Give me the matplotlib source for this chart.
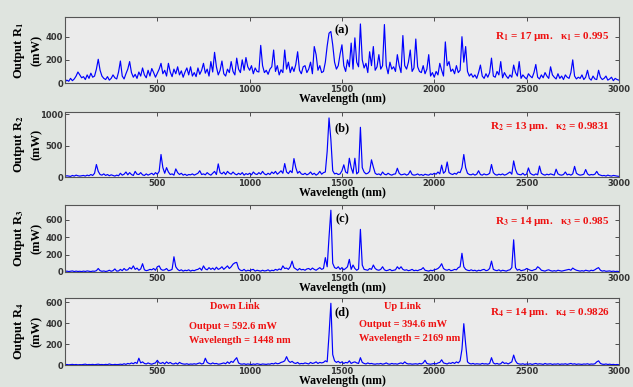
import numpy as np
import matplotlib
matplotlib.use('Agg')
import matplotlib.pyplot as plt

plt.rcParams['mathtext.fontset'] = 'stix'

# wavelength grid (nm), one sample every 10 nm
wavelength = np.arange(0, 3001, 10)

# output power (mW)
output_r1 = [
    10, 25, 15, 40, 20, 35, 60, 95, 70, 45,
    55, 30, 70, 40, 85, 50, 60, 120, 205, 110,
    60, 40, 30, 55, 25, 40, 70, 45, 35, 95,
    190, 60, 35, 80, 120, 185, 90, 50, 75, 40,
    95, 60, 130, 70, 45, 110, 60, 125, 90, 50,
    85, 120, 170, 80, 110, 60, 170, 95, 55, 120,
    80, 140, 70, 105, 50, 95, 130, 70, 140, 60,
    90, 55, 130, 75, 110, 170, 85, 120, 60, 185,
    95, 265, 140, 70, 110, 190, 80, 60, 120, 90,
    185, 100, 70, 215, 120, 90, 200, 110, 220, 140,
    110, 150, 80, 130, 100, 95, 325, 150, 90, 110,
    75, 120, 140, 285, 100, 150, 70, 115, 90, 285,
    120, 180, 90, 140, 100, 160, 270, 110, 80, 140,
    150, 90, 120, 180, 80, 315, 245, 110, 150, 90,
    100, 180, 320, 430, 445, 330, 180, 120, 150, 250,
    330, 150, 100, 200, 140, 345, 120, 390, 180, 140,
    510, 200, 130, 170, 90, 270, 150, 315, 110, 140,
    245, 120, 150, 505, 150, 80, 180, 120, 140, 100,
    245, 150, 90, 410, 150, 120, 180, 285, 100, 130,
    380, 140, 100, 90, 150, 80, 120, 245, 60, 90,
    50, 100, 70, 170, 110, 60, 355, 150, 185, 100,
    120, 80, 150, 90, 110, 400, 180, 315, 100, 60,
    80, 50, 70, 40, 90, 155, 60, 40, 80, 50,
    90, 215, 60, 50, 100, 70, 185, 45, 90, 60,
    40, 70, 50, 155, 90, 60, 185, 40, 70, 50,
    35, 80, 60, 45, 90, 160, 50, 35, 70, 45,
    90, 60, 40, 140, 70, 50, 35, 80, 40, 60,
    30, 70, 50, 40, 90, 200, 60, 35, 50, 40,
    70, 30, 50, 110, 40, 25, 60, 35, 30, 110,
    50, 30, 40, 60, 25, 35, 50, 20, 40, 30,
    25]

output_r2 = [
    10, 20, 15, 10, 25, 15, 30, 20, 15, 20,
    25, 15, 30, 20, 40, 25, 60, 200, 90, 40,
    30, 50, 25, 40, 20, 35, 25, 15, 30, 20,
    60, 30, 45, 80, 35, 70, 40, 25, 90, 45,
    40, 70, 35, 25, 50, 30, 45, 60, 35, 70,
    45, 90, 360, 150, 60, 150, 80, 40, 50, 30,
    130, 70, 40, 60, 30, 45, 25, 40, 35, 50,
    30, 45, 60, 100, 40, 50, 35, 70, 45, 30,
    60, 90, 40, 210, 70, 50, 80, 40, 90, 60,
    45, 80, 50, 35, 60, 40, 70, 30, 55, 40,
    60, 35, 80, 50, 40, 70, 45, 90, 50, 35,
    60, 40, 80, 55, 90, 45, 70, 100, 60, 215,
    80, 55, 100, 70, 295, 150, 60, 90, 50, 40,
    60, 35, 50, 80, 40, 60, 30, 50, 90, 45,
    70, 80, 410, 945, 600, 100, 50, 60, 40, 50,
    100, 195, 80, 60, 300, 150, 60, 300, 50, 80,
    795, 150, 80, 50, 60, 90, 275, 160, 60, 40,
    50, 30, 80, 45, 35, 60, 40, 30, 45, 50,
    140, 60, 35, 40, 50, 30, 45, 100, 40, 30,
    35, 50, 30, 40, 25, 45, 35, 30, 50, 40,
    60, 45, 80, 50, 190, 60, 90, 240, 70, 50,
    40, 60, 45, 80, 70, 150, 360, 150, 60, 40,
    35, 50, 30, 45, 100, 40, 30, 50, 35, 40,
    60, 200, 70, 40, 30, 45, 35, 50, 30, 40,
    60, 80, 45, 258, 120, 50, 40, 35, 60, 30,
    45, 145, 60, 40, 30, 50, 35, 175, 60, 40,
    30, 45, 35, 50, 40, 30, 125, 50, 35, 30,
    40, 80, 35, 45, 30, 50, 170, 60, 40, 30,
    35, 45, 120, 50, 30, 40, 35, 45, 90, 40,
    30, 20, 25, 15, 30, 20, 15, 25, 20, 15,
    10]

output_r3 = [
    5, 10, 5, 8, 12, 5, 10, 6, 8, 5,
    10, 6, 12, 8, 5, 10, 8, 15, 40, 15,
    8, 12, 6, 10, 20, 8, 15, 35, 10, 12,
    30, 15, 40, 20, 25, 50, 35, 70, 30, 45,
    20, 35, 95, 25, 15, 20, 30, 25, 40, 20,
    60, 70, 30, 20, 25, 40, 15, 20, 30, 175,
    60, 30, 15, 25, 10, 20, 15, 25, 10, 20,
    15, 25, 30, 45, 20, 70, 35, 25, 50, 30,
    45, 25, 55, 30, 40, 60, 30, 50, 70, 40,
    60, 90, 105, 110, 40, 20, 15, 30, 10, 20,
    15, 25, 30, 10, 20, 15, 10, 20, 12, 15,
    25, 10, 20, 15, 30, 20, 35, 25, 70, 40,
    45, 30, 60, 125, 50, 35, 20, 40, 25, 30,
    20, 35, 40, 25, 45, 30, 20, 35, 50, 30,
    40, 165, 60, 400, 710, 100, 50, 40, 60, 30,
    50, 25, 40, 60, 145, 30, 80, 40, 20, 35,
    490, 80, 30, 25, 20, 40, 30, 80, 40, 25,
    20, 30, 60, 25, 15, 20, 30, 15, 20, 25,
    60, 35, 60, 30, 20, 25, 15, 20, 30, 15,
    20, 15, 25, 30, 50, 20, 15, 10, 20, 15,
    25, 30, 40, 60, 95, 40, 25, 20, 30, 15,
    20, 30, 25, 50, 60, 215, 60, 30, 20, 15,
    25, 15, 20, 10, 20, 15, 25, 30, 15, 20,
    40, 125, 30, 20, 15, 25, 10, 20, 15, 10,
    20, 25, 50, 370, 50, 20, 30, 15, 20, 25,
    40, 30, 20, 15, 25, 30, 60, 45, 20, 15,
    10, 20, 25, 15, 10, 15, 10, 20, 15, 10,
    15, 20, 25, 30, 20, 45, 30, 20, 15, 10,
    15, 10, 20, 15, 10, 20, 15, 25, 40, 50,
    20, 10, 15, 8, 10, 12, 6, 10, 5, 8,
    5]

output_r4 = [
    3, 5, 2, 4, 6, 3, 5, 2, 4, 3,
    5, 8, 3, 5, 4, 6, 3, 5, 8, 4,
    5, 3, 6, 4, 10, 5, 3, 6, 4, 5,
    8, 5, 12, 6, 15, 10, 20, 12, 25, 15,
    65, 20, 30, 15, 10, 20, 12, 8, 15, 20,
    45, 20, 15, 25, 10, 30, 15, 25, 12, 10,
    20, 8, 25, 15, 10, 8, 12, 6, 10, 8,
    12, 8, 15, 20, 10, 15, 65, 25, 15, 10,
    20, 12, 15, 8, 10, 15, 20, 12, 30, 15,
    35, 25, 50, 70, 20, 10, 8, 12, 6, 10,
    8, 5, 10, 6, 12, 8, 5, 10, 8, 6,
    10, 8, 15, 10, 20, 12, 15, 25, 30, 40,
    80, 40, 25, 35, 20, 15, 25, 10, 15, 12,
    20, 15, 10, 25, 15, 20, 30, 15, 25, 20,
    25, 40, 30, 290, 590, 100, 40, 25, 35, 20,
    30, 15, 25, 20, 40, 15, 25, 30, 20, 15,
    70, 25, 15, 10, 20, 12, 15, 10, 8, 12,
    10, 15, 8, 12, 20, 10, 8, 15, 10, 12,
    8, 15, 20, 12, 30, 15, 10, 12, 8, 10,
    12, 8, 15, 10, 20, 45, 15, 10, 8, 12,
    15, 10, 20, 25, 50, 20, 15, 10, 20, 15,
    25, 15, 30, 20, 40, 150, 395, 200, 30, 15,
    10, 15, 8, 12, 10, 8, 15, 10, 12, 8,
    15, 70, 20, 10, 15, 8, 12, 30, 15, 20,
    10, 20, 30, 95, 40, 15, 10, 8, 12, 6,
    10, 8, 12, 6, 10, 15, 8, 12, 10, 6,
    15, 8, 10, 12, 6, 10, 8, 12, 6, 10,
    8, 12, 6, 10, 15, 8, 12, 6, 10, 8,
    6, 10, 8, 12, 6, 10, 8, 12, 30, 40,
    15, 8, 6, 10, 5, 8, 4, 6, 3, 5,
    3]

panel_tags = ['(a)', '(b)', '(c)', '(d)']
ring_radius = ['17', '13', '14', '14']
coupling = ['0.995', '0.9831', '0.985', '0.9826']
y_tops = [570, 1040, 770, 640]
y_ticks = [[0, 200, 400], [0, 500, 1000], [0, 200, 400, 600], [0, 200, 400, 600]]
x_ticks = [500, 1000, 1500, 2000, 2500, 3000]

series = [output_r1, output_r2, output_r3, output_r4]

# axes boxes in figure fractions [left, bottom, width, height]
boxes = [[0.1027, 0.7855, 0.875, 0.1705],
         [0.1027, 0.5426, 0.875, 0.168],
         [0.1027, 0.2972, 0.875, 0.173],
         [0.1027, 0.0568, 0.875, 0.173]]
tag_y = [0.80, 0.75, 0.78, 0.79]
red_y = [0.70, 0.77, 0.75, 0.78]

serif = 'Liberation Serif'

fig = plt.figure(figsize=(6.33, 3.87), dpi=100, facecolor='#dfe4df')

for i in range(4):
    ax = fig.add_axes(boxes[i])
    ax.set_facecolor('#ebebeb')
    ax.plot(wavelength, series[i], color='#0000ff', lw=0.85)
    ax.set_xlim(0, 3000)
    ax.set_ylim(0, y_tops[i])
    ax.set_xticks(x_ticks)
    ax.set_yticks(y_ticks[i])
    ax.tick_params(direction='in', top=True, right=True, labelsize=6,
                   length=3, width=0.6, pad=1.5, colors='#333333')
    for lbl in ax.get_xticklabels() + ax.get_yticklabels():
        lbl.set_fontweight('bold')
    for sp in ax.spines.values():
        sp.set_color('#555555')
        sp.set_linewidth(0.8)

    n = str(i + 1)
    ax.set_xlabel('Wavelength (nm)', family=serif, fontweight='bold',
                  fontsize=8.5, labelpad=-1)
    ax.set_ylabel('Output R$_{\\mathbf{' + n + '}}$\n(mW)', family=serif,
                  fontweight='bold', fontsize=9, linespacing=1.45)
    ax.yaxis.set_label_coords(-0.04, 0.5)

    ax.text(1500, tag_y[i] * y_tops[i], panel_tags[i], family=serif,
            fontweight='bold', fontsize=9, ha='center', va='center')
    ax.text(2950, red_y[i] * y_tops[i],
            'R$_{\\mathbf{' + n + '}}$ = ' + ring_radius[i] + ' µm.   κ$_{\\mathbf{'
            + n + '}}$ = ' + coupling[i],
            family=serif, fontweight='bold', fontsize=8, color='#ee1111',
            ha='right', va='center')

    if i == 3:
        ax.text(920, 0.87 * y_tops[i], 'Down Link', family=serif,
                fontweight='bold', fontsize=7.5, color='#ee1111', ha='center', va='center')
        ax.text(670, 0.57 * y_tops[i], 'Output = 592.6 mW', family=serif,
                fontweight='bold', fontsize=7.5, color='#ee1111', va='center')
        ax.text(670, 0.36 * y_tops[i], 'Wavelength = 1448 nm', family=serif,
                fontweight='bold', fontsize=7.5, color='#ee1111', va='center')
        ax.text(1830, 0.87 * y_tops[i], 'Up Link', family=serif,
                fontweight='bold', fontsize=7.5, color='#ee1111', ha='center', va='center')
        ax.text(1590, 0.61 * y_tops[i], 'Output = 394.6 mW', family=serif,
                fontweight='bold', fontsize=7.5, color='#ee1111', va='center')
        ax.text(1590, 0.39 * y_tops[i], 'Wavelength = 2169 nm', family=serif,
                fontweight='bold', fontsize=7.5, color='#ee1111', va='center')

fig.savefig('out.png', dpi=100, facecolor=fig.get_facecolor())
